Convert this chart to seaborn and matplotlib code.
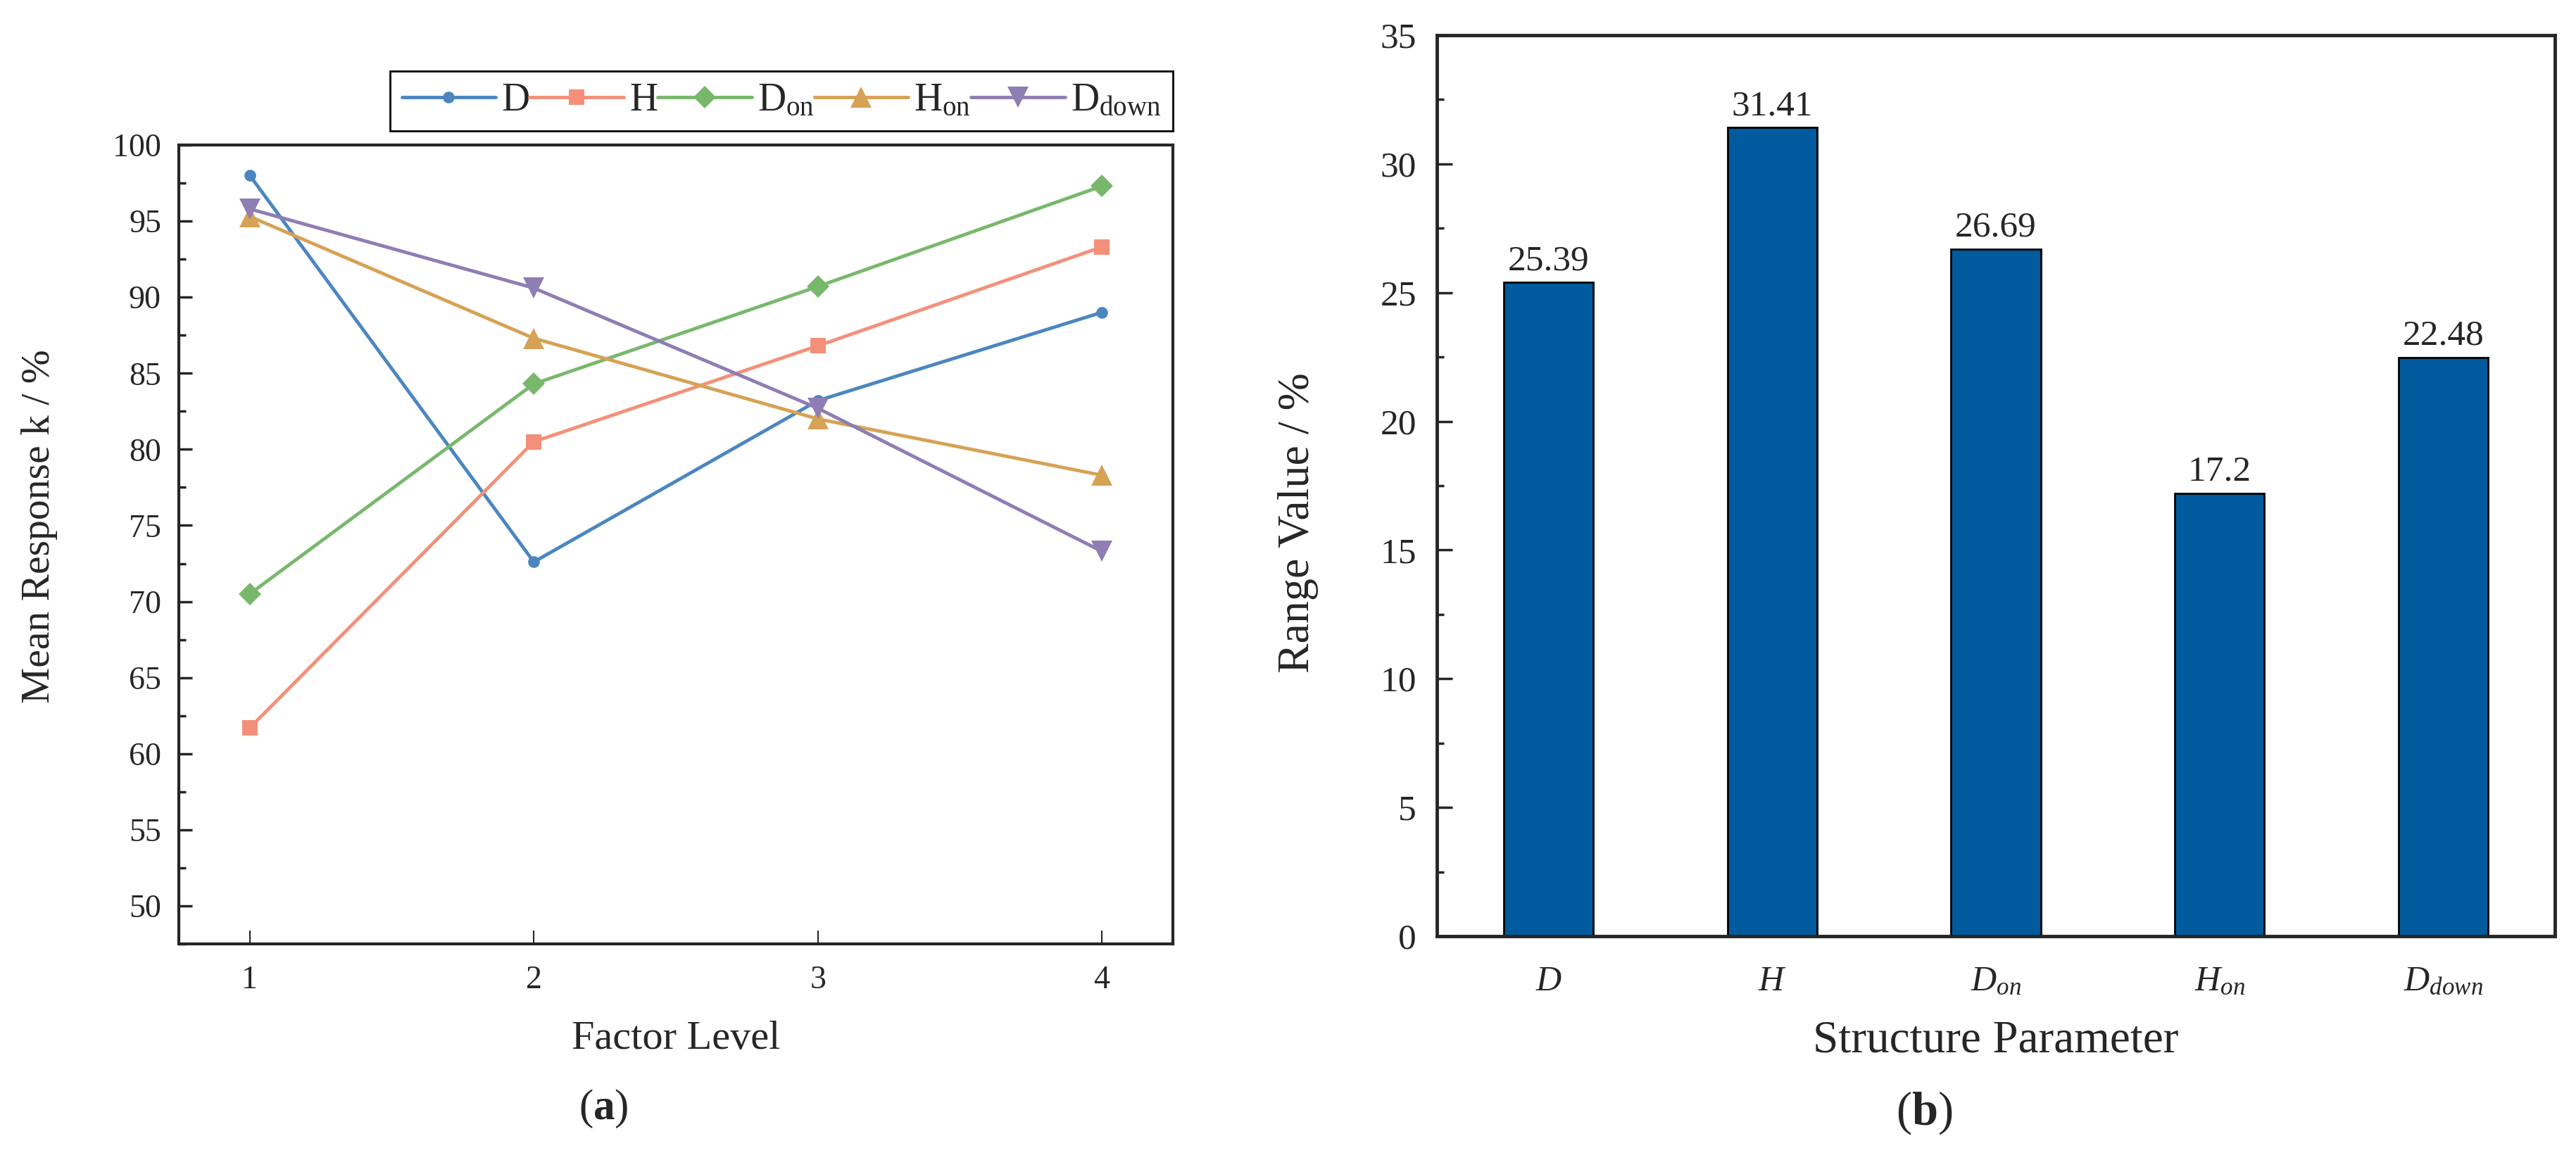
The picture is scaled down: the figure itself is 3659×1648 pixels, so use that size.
import numpy as np
import pandas as pd
import seaborn as sns
import matplotlib.pyplot as plt
from matplotlib.ticker import MultipleLocator

# data
levels = [1, 2, 3, 4]
k_D = [98.0, 72.6, 83.2, 89.0]
k_H = [61.7, 80.5, 86.8, 93.3]
k_Don = [70.5, 84.3, 90.7, 97.3]
k_Hon = [95.3, 87.3, 82.0, 78.3]
k_Ddown = [95.8, 90.6, 82.7, 73.3]

params = ["D", "H", "Don", "Hon", "Ddown"]
param_ticks = [r"$D$", r"$H$", r"$D_{on}$", r"$H_{on}$", r"$D_{down}$"]
range_vals = [25.39, 31.41, 26.69, 17.2, 22.48]

sns.set_style("ticks")
plt.rcParams["font.family"] = ["Liberation Serif", "DejaVu Serif"]
plt.rcParams["mathtext.fontset"] = "custom"
plt.rcParams["mathtext.rm"] = "Liberation Serif"
plt.rcParams["mathtext.it"] = "Liberation Serif:italic"
plt.rcParams["mathtext.bf"] = "Liberation Serif:bold"

fig = plt.figure(figsize=(36.59, 16.48), dpi=100)
ax1 = fig.add_axes([0.0694, 0.1863, 0.3859, 0.6887])
ax2 = fig.add_axes([0.5578, 0.1930, 0.4340, 0.7767])

# ---- (a) line chart
series = [
    (k_D, "D", "#4B86C0", "o", 12),
    (k_H, "H", "#F4907A", "s", 16),
    (k_Don, r"D$_{\mathrm{on}}$", "#78B86C", "D", 16),
    (k_Hon, r"H$_{\mathrm{on}}$", "#D6A255", "^", 21),
    (k_Ddown, r"D$_{\mathrm{down}}$", "#8F7DB4", "v", 21),
]
for vals, lab, col, mk, ms in series:
    sns.lineplot(x=levels, y=vals, ax=ax1, color=col, marker=mk, markersize=ms,
                 markeredgewidth=0, linewidth=3.5, label=lab)

ax1.set_xlim(0.75, 4.25)
ax1.set_ylim(47.5, 100)
ax1.set_xticks(levels)
ax1.yaxis.set_major_locator(MultipleLocator(5))
ax1.yaxis.set_minor_locator(MultipleLocator(2.5))
ax1.tick_params(axis="y", which="major", direction="in", length=14, width=2.5,
                labelsize=33, pad=18)
ax1.tick_params(axis="y", which="minor", direction="in", length=7, width=2.5)
ax1.tick_params(axis="x", which="major", direction="in", length=14, width=1.5,
                labelsize=33, pad=22)
for s in ax1.spines.values():
    s.set_linewidth(3)
    s.set_visible(True)

ax1.set_xlabel("Factor Level", fontsize=42)
ax1.xaxis.set_label_coords(0.5, -0.119)
ax1.xaxis.label.set_va("center")
ax1.set_ylabel("Mean Response k / %", fontsize=41.5)
ax1.yaxis.set_label_coords(-0.140, 0.5225)
ax1.yaxis.label.set_va("center")

leg = ax1.legend(loc="lower right", bbox_to_anchor=(1.0, 1.0176), ncol=5,
                 fontsize=40, frameon=True, fancybox=False, framealpha=1,
                 edgecolor="black", borderaxespad=0, handlelength=2.4,
                 handletextpad=0.15, columnspacing=0.0, borderpad=0.3,
                 numpoints=1)
leg.get_frame().set_linewidth(2)

# ---- (b) bar chart
df = pd.DataFrame({"param": params, "value": range_vals})
sns.barplot(data=df, x="param", y="value", ax=ax2, color="#005A9E", saturation=1,
            width=0.4, edgecolor="black", linewidth=2)
ax2.bar_label(ax2.containers[0], labels=[f"{v:g}" for v in range_vals],
              fontsize=37, padding=5)

ax2.set_xlim(-0.5, 4.5)
ax2.set_ylim(0, 35)
ax2.set_xticks(range(len(params)))
ax2.set_xticklabels(param_ticks)
ax2.yaxis.set_major_locator(MultipleLocator(5))
ax2.yaxis.set_minor_locator(MultipleLocator(2.5))
ax2.tick_params(axis="y", which="major", direction="in", length=16, width=2.5,
                labelsize=37, pad=21)
ax2.tick_params(axis="y", which="minor", direction="in", length=7, width=2.5)
ax2.tick_params(axis="x", which="major", length=0, labelsize=36, pad=30)
for s in ax2.spines.values():
    s.set_linewidth(3.5)
    s.set_visible(True)

ax2.set_xlabel("Structure Parameter", fontsize=47)
ax2.xaxis.set_label_coords(0.5, -0.1164)
ax2.xaxis.label.set_va("center")
ax2.set_ylabel("Range Value / %", fontsize=46)
ax2.yaxis.set_label_coords(-0.124, 0.459)
ax2.yaxis.label.set_va("center")

fig.text(0.2342, 0.0443, r"($\mathbf{a}$)", fontsize=44, ha="center", va="center")
fig.text(0.747, 0.0407, r"($\mathbf{b}$)", fontsize=48, ha="center", va="center")

fig.savefig("out.png", dpi=100)
